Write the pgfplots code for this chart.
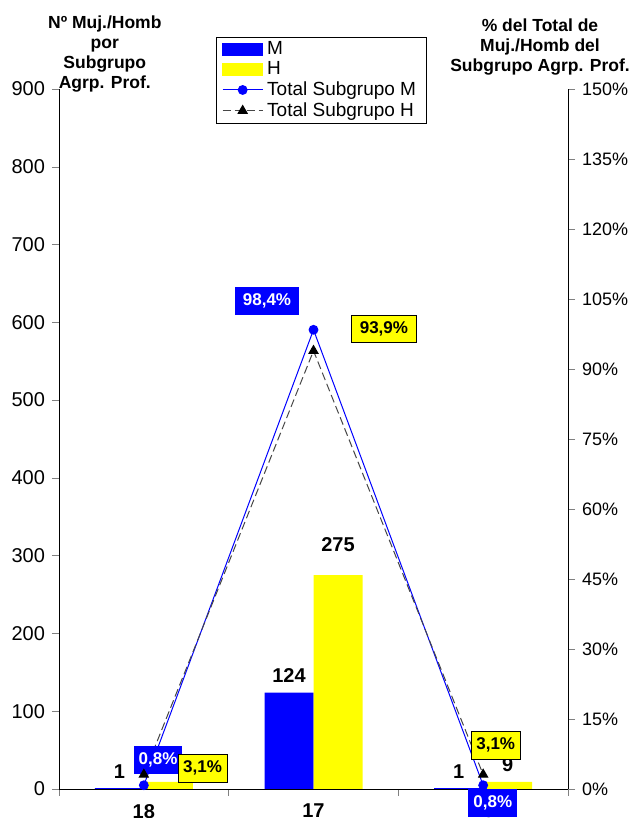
\documentclass[border=0pt]{standalone}
\usepackage{fontspec}
\setmainfont{Liberation Sans}
\usepackage{pgfplots}
\usepackage{pgfplotstable}
\pgfplotsset{compat=1.18}
\definecolor{mblue}{RGB}{0,0,255}
\definecolor{hyellow}{RGB}{255,255,0}
\definecolor{hline}{RGB}{70,70,70}

\pgfplotstableread{
x y dy
0 1 1.5
1 124 1.5
2 1 1.5
}\dataM
\pgfplotstableread{
x y dy
0 9 1.5
1 275 8
2 9 1.5
}\dataH
\pgfplotstableread{
x y
0 0.8
1 98.4
2 0.8
}\pctM
\pgfplotstableread{
x y
0 3.1
1 93.9
2 3.1
}\pctH

\begin{document}
\begin{tikzpicture}
\pgfplotsset{
  base/.style={
    scale only axis, width=254.5pt, height=350pt,
    xmin=-0.5, xmax=2.5,
    tick align=outside,
    major tick length=3.5pt,
    clip=false,
    /pgf/number format/assume math mode=true,
    /pgf/number format/use comma,
    tick label style={font=\fontsize{10}{12}\selectfont},
  }
}
\useasboundingbox (-29.5pt,-14.5pt) rectangle (287.5pt,394.5pt);
\begin{axis}[base,
  ymin=0, ymax=900, ytick={0,100,...,900},
  axis y line*=left, axis x line*=bottom,
  xtick={-0.5,0.5,1.5,2.5}, xticklabels={},
  extra x ticks={0,1,2}, extra x tick labels={18,17,15},
  extra x tick style={major tick length=0pt,
    tick label style={font=\bfseries\fontsize{10}{12}\selectfont, yshift=-4pt}},
  ybar=0pt, bar width=24.5pt,
  nodes near coords,
  visualization depends on={\thisrow{dy} \as \dy},
  nodes near coords style={font=\bfseries\fontsize{10}{12}\selectfont, yshift=\dy pt},
]
\addplot[fill=mblue, draw=none] table[x=x,y=y] {\dataM};
\addplot[fill=hyellow, draw=none] table[x=x,y=y] {\dataH};
\node[align=center, anchor=north, font=\bfseries\fontsize{8.75}{10}\selectfont]
  at (rel axis cs:0.090,1.115) {Nº Muj./Homb\\por\\Subgrupo\\Agrp. Prof.};
\node[align=center, anchor=north, font=\bfseries\fontsize{8.75}{10}\selectfont]
  at (rel axis cs:0.945,1.110) {\% del Total de\\Muj./Homb del\\Subgrupo Agrp. Prof.};
\end{axis}
\begin{axis}[base,
  ymin=0, ymax=150, ytick={0,15,...,150},
  yticklabel={\pgfmathprintnumber{\tick}\%},
  y tick label style={font=\fontsize{9}{11}\selectfont},
  axis y line*=right, axis x line=none,
  legend image code/.code={\draw[mark repeat=2,mark phase=2,#1] plot coordinates {(0pt,0pt) (10pt,0pt) (20pt,0pt)};},
  legend style={at={(rel axis cs:0.308,1.0742)}, anchor=north west, draw=black,
    font=\fontsize{9.5}{10}\selectfont, inner xsep=3pt, inner ysep=0pt, row sep=-2pt,
    cells={anchor=west}},
]
\addlegendimage{legend image code/.code={\fill[mblue] (0pt,-3pt) rectangle (20pt,3pt);}}
\addlegendentry{M}
\addlegendimage{legend image code/.code={\fill[hyellow] (0pt,-3pt) rectangle (20pt,3pt);}}
\addlegendentry{H}
\addplot[mblue, line width=0.5pt, mark=*, mark size=2.2pt, mark options={fill=mblue}] table[x=x,y=y] {\pctM};
\addlegendentry{Total Subgrupo M}
\addplot[hline, line width=0.5pt, dash pattern=on 4pt off 2pt, mark=triangle*, mark size=2.6pt, mark options={solid, fill=black, draw=black}] table[x=x,y=y] {\pctH};
\addlegendentry{Total Subgrupo H}
\tikzset{bbox/.style={fill=mblue, text=white, font=\bfseries\fontsize{8.5}{10}\selectfont, inner xsep=2.5pt, minimum height=12.5pt},
  ybox/.style={fill=hyellow, draw=black, line width=0.4pt, text=black, font=\bfseries\fontsize{8.5}{10}\selectfont, inner xsep=2.5pt, minimum height=12.5pt}}
\node[bbox, inner xsep=4pt] at (axis cs:0.726,104.6) {98,4\%};
\node[ybox, inner xsep=4pt] at (axis cs:1.415,98.6) {93,9\%};
\node[bbox] at (axis cs:0.084,6.2) {0,8\%};
\node[ybox] at (axis cs:0.346,4.5) {3,1\%};
\node[ybox] at (axis cs:2.074,9.4) {3,1\%};
\node[bbox] at (axis cs:2.057,-3.0) {0,8\%};
\end{axis}
\end{tikzpicture}
\end{document}
